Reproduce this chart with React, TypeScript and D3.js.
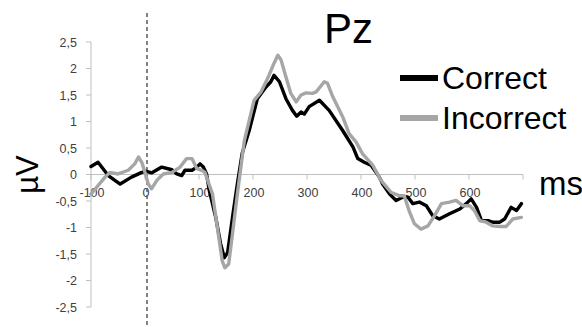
import React, { useRef, useEffect } from 'react';
import * as d3 from 'd3';

const width = 582;
const height = 327;

// time (ms) and amplitude (µV)
const correctTimes = [-100, -87, -68, -46, -25, -6, 3, 12, 31, 50, 59, 68, 74, 87, 96, 102, 108, 114, 119, 131, 140, 147, 153, 162, 171, 180, 193, 208, 224, 233, 239, 249, 261, 273, 281, 289, 295, 304, 323, 341, 366, 385, 394, 406, 419, 434, 440, 453, 465, 477, 487, 496, 508, 521, 533, 545, 564, 583, 595, 604, 614, 623, 635, 644, 657, 666, 678, 688, 697];
const correctValues = [0.15, 0.23, -0.02, -0.18, -0.05, 0.04, 0.06, 0.03, 0.14, 0.09, 0.01, -0.02, 0.08, 0.08, 0.14, 0.2, 0.14, 0.01, -0.3, -0.81, -1.31, -1.57, -1.47, -0.81, -0.18, 0.4, 0.83, 1.43, 1.65, 1.75, 1.87, 1.75, 1.43, 1.21, 1.1, 1.18, 1.14, 1.28, 1.4, 1.21, 0.83, 0.52, 0.3, 0.23, 0.17, -0.05, -0.18, -0.37, -0.49, -0.43, -0.43, -0.55, -0.52, -0.59, -0.78, -0.84, -0.74, -0.65, -0.55, -0.46, -0.62, -0.87, -0.87, -0.9, -0.9, -0.84, -0.62, -0.68, -0.55];

const incorrectTimes = [-100, -74, -65, -50, -31, -19, -12, -6, 0, 6, 12, 22, 34, 50, 65, 77, 87, 96, 105, 111, 125, 134, 143, 148, 155, 162, 171, 180, 184, 193, 202, 215, 227, 239, 246, 252, 261, 270, 280, 289, 298, 310, 317, 332, 338, 348, 366, 378, 391, 403, 422, 437, 456, 471, 480, 490, 499, 511, 524, 536, 549, 564, 576, 589, 601, 610, 620, 632, 644, 657, 669, 681, 697];
const incorrectValues = [-0.37, -0.05, 0.04, 0.01, 0.08, 0.2, 0.33, 0.23, 0.04, -0.18, -0.27, -0.11, 0.01, 0.04, 0.14, 0.3, 0.3, 0.11, 0.08, 0.04, -0.37, -1.0, -1.63, -1.76, -1.69, -1.12, -0.37, 0.33, 0.64, 1.02, 1.4, 1.56, 1.81, 2.1, 2.25, 2.16, 1.84, 1.53, 1.37, 1.5, 1.54, 1.53, 1.56, 1.75, 1.72, 1.46, 1.09, 0.77, 0.61, 0.39, 0.17, -0.11, -0.34, -0.4, -0.4, -0.71, -0.93, -1.03, -0.97, -0.78, -0.55, -0.52, -0.49, -0.59, -0.59, -0.68, -0.87, -0.9, -0.97, -0.98, -0.98, -0.84, -0.81];

const xTicks = [-100, 0, 100, 200, 300, 400, 500, 600, 700];
const xTickLabels = ['-100', '0', '100', '200', '300', '400', '500', '600', ''];
const yTicks = [2.5, 2, 1.5, 1, 0.5, 0, -0.5, -1, -1.5, -2, -2.5];

const seriesNames = ['Correct', 'Incorrect'];
const seriesColors = ['#000000', '#a6a6a6'];

const font = 'Liberation Sans, Arial, sans-serif';

const renderChart = (ref) => {
	const svg = d3.select(ref.current);
	svg.selectAll('*').remove();

	const x = d3.scaleLinear().domain([-100, 700]).range([91, 523]);
	const y = d3.scaleLinear().domain([-2.5, 2.5]).range([307, 42]);

	const axisColor = '#bfbfbf';
	const labelColor = '#404040';

	// y axis
	svg.append('line')
		.attr('x1', x(-100)).attr('x2', x(-100))
		.attr('y1', y(2.5)).attr('y2', y(-2.5))
		.attr('stroke', axisColor);
	svg.selectAll('.ytick')
		.data(yTicks)
		.join('line')
		.attr('x1', x(-100) - 5).attr('x2', x(-100))
		.attr('y1', (d) => y(d)).attr('y2', (d) => y(d))
		.attr('stroke', axisColor);
	svg.selectAll('.ylabel')
		.data(yTicks)
		.join('text')
		.attr('x', 77)
		.attr('y', (d) => y(d) + 4.5)
		.attr('text-anchor', 'end')
		.attr('font-family', font)
		.attr('font-size', 12.5)
		.attr('fill', labelColor)
		.text((d) => String(d).replace('.', ','));

	// x axis at zero
	svg.append('line')
		.attr('x1', x(-100)).attr('x2', x(700))
		.attr('y1', y(0)).attr('y2', y(0))
		.attr('stroke', axisColor);
	svg.selectAll('.xtick')
		.data(xTicks)
		.join('line')
		.attr('x1', (d) => x(d)).attr('x2', (d) => x(d))
		.attr('y1', y(0)).attr('y2', y(0) + 5)
		.attr('stroke', axisColor);
	svg.selectAll('.xlabel')
		.data(xTicks)
		.join('text')
		.attr('x', (d) => x(d) + 1)
		.attr('y', y(0) + 22)
		.attr('text-anchor', 'middle')
		.attr('font-family', font)
		.attr('font-size', 12.5)
		.attr('fill', labelColor)
		.text((d, i) => xTickLabels[i]);

	// stimulus onset
	svg.append('line')
		.attr('x1', x(0) + 2).attr('x2', x(0) + 2)
		.attr('y1', 13).attr('y2', height)
		.attr('stroke', '#595959')
		.attr('stroke-width', 1.5)
		.attr('stroke-dasharray', '4,3');

	const line = d3.line()
		.x((d) => x(d[0]))
		.y((d) => y(d[1]));

	const series = [
		d3.zip(correctTimes, correctValues),
		d3.zip(incorrectTimes, incorrectValues),
	];

	svg.selectAll('.series')
		.data(series)
		.join('path')
		.attr('d', (d) => line(d))
		.attr('fill', 'none')
		.attr('stroke', (d, i) => seriesColors[i])
		.attr('stroke-width', 3.4)
		.attr('stroke-linejoin', 'round')
		.attr('stroke-linecap', 'round');

	// titles
	svg.append('text')
		.attr('x', 324).attr('y', 43)
		.attr('font-family', font)
		.attr('font-size', 42)
		.text('Pz');
	svg.append('text')
		.attr('transform', `translate(38, ${ y(0) }) rotate(-90)`)
		.attr('text-anchor', 'middle')
		.attr('font-family', font)
		.attr('font-size', 31)
		.text('µV');
	svg.append('text')
		.attr('x', 539).attr('y', 195)
		.attr('font-family', font)
		.attr('font-size', 33)
		.text('ms');

	// legend
	const legend = svg.selectAll('.legend')
		.data(seriesNames)
		.join('g')
		.attr('transform', (d, i) => `translate(400, ${ 78 + i * 40 })`);
	legend.append('line')
		.attr('x1', 0).attr('x2', 38)
		.attr('stroke', (d, i) => seriesColors[i])
		.attr('stroke-width', 6);
	legend.append('text')
		.attr('x', 42).attr('y', 11)
		.attr('font-family', font)
		.attr('font-size', 32)
		.text((d) => d);
};

const App = () => {
	const ref = useRef(null);

	useEffect(() => {
		renderChart(ref);
	}, []);

	return (
		<svg ref={ ref } width={ width } height={ height }
			style={ { position: 'absolute', left: 0, top: 0, background: '#fff' } }/>
	);
};

export default App;
